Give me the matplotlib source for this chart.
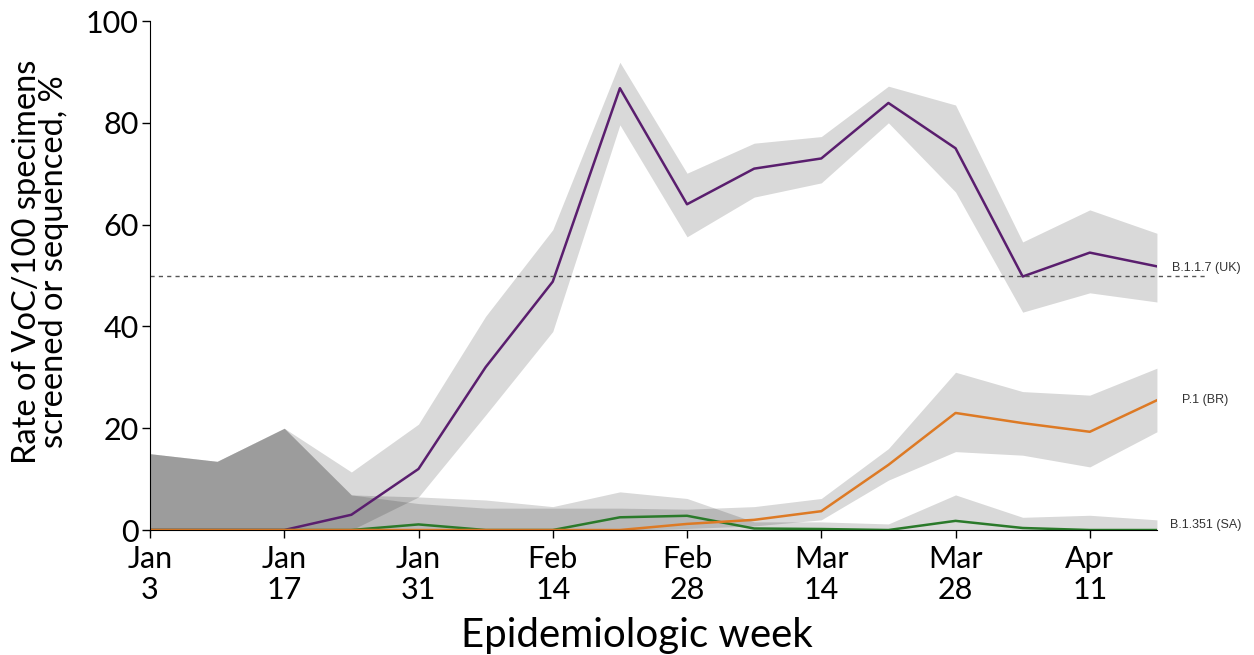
import matplotlib
matplotlib.use("Agg")
import matplotlib.pyplot as plt

# weekly points, Jan 3 .. Apr 18
weeks = ["Jan 3", "Jan 10", "Jan 17", "Jan 24", "Jan 31", "Feb 7", "Feb 14", "Feb 21",
         "Feb 28", "Mar 7", "Mar 14", "Mar 21", "Mar 28", "Apr 4", "Apr 11", "Apr 18"]
tick_labels = ["Jan\n3", "Jan\n17", "Jan\n31", "Feb\n14", "Feb\n28", "Mar\n14", "Mar\n28", "Apr\n11"]

uk = [0, 0, 0, 3, 12, 32, 48.8, 86.8, 64, 71, 73, 83.9, 75, 49.8, 54.5, 51.8]
uk_lo = [0, 0, 0, 0, 6.5, 22.6, 39, 79.6, 57.6, 65.4, 68.2, 80, 66.4, 42.8, 46.6, 44.8]
uk_hi = [15, 13.5, 20, 11.4, 20.8, 42, 59, 91.9, 70.1, 76, 77.3, 87.2, 83.5, 56.6, 62.9, 58.3]

br = [0, 0, 0, 0, 0, 0, 0, 0, 1.2, 2, 3.7, 12.8, 23, 21, 19.3, 25.5]
br_lo = [0, 0, 0, 0, 0, 0, 0, 0, 0.3, 0.8, 2, 9.8, 15.4, 14.7, 12.4, 19.3]
br_hi = [15, 13.5, 20, 6.9, 5.2, 4.3, 4.3, 4.3, 4.1, 4.6, 6.2, 16, 31, 27.2, 26.5, 31.8]

sa = [0, 0, 0, 0, 1.1, 0, 0, 2.5, 2.8, 0.3, 0.2, 0, 1.8, 0.4, 0, 0]
sa_lo = [0] * 16
sa_hi = [15, 13.5, 20, 6.9, 6.5, 5.9, 4.6, 7.5, 6.2, 1.6, 1.6, 1.2, 6.9, 2.5, 2.9, 2.0]

x = list(range(len(weeks)))

fig = plt.figure(figsize=(12.54, 6.55), dpi=100)
ax = fig.add_axes([0.1196, 0.1908, 0.8030, 0.7771])

for lo, hi in [(uk_lo, uk_hi), (br_lo, br_hi), (sa_lo, sa_hi)]:
    ax.fill_between(x, lo, hi, color="black", alpha=0.15, linewidth=0)

ax.plot(x, uk, color="#5a1e6e", lw=1.8)
ax.plot(x, sa, color="#2a7a2a", lw=1.8)
ax.plot(x, br, color="#dd7a25", lw=1.8)

ax.plot([0, 15.75], [50, 50], ls=(0, (3, 3)), color="#555555", lw=1, clip_on=False)

lab_font = dict(fontsize=9, color="#333333", family="Liberation Sans", va="center")
ax.text(15.22, 51.5, "B.1.1.7 (UK)", **lab_font)
ax.text(15.37, 25.5, "P.1 (BR)", **lab_font)
ax.text(15.19, 0.9, "B.1.351 (SA)", **lab_font)

ax.set_xlim(0, 15)
ax.set_ylim(0, 100)
ax.set_xticks(x[::2])
ax.set_xticklabels(tick_labels, fontsize=22, family="Lato", linespacing=1.1)
ax.set_yticks([0, 20, 40, 60, 80, 100])
ax.set_yticklabels(["0", "20", "40", "60", "80", "100"], fontsize=22, family="Lato")
ax.tick_params(direction="out", length=6, width=1, pad=2)
ax.tick_params(axis="x", pad=5)
ax.set_xlabel("Epidemiologic week", fontsize=29, family="Lato")
ax.xaxis.set_label_coords(0.484, -0.17)
ax.set_ylabel("Rate of VoC/100 specimens\nscreened or sequenced, %", fontsize=23.5,
              family="Lato", linespacing=0.9)
ax.yaxis.set_label_coords(-0.08, 0.527)
for s in ["top", "right"]:
    ax.spines[s].set_visible(False)

fig.savefig("out.png", dpi=100)
